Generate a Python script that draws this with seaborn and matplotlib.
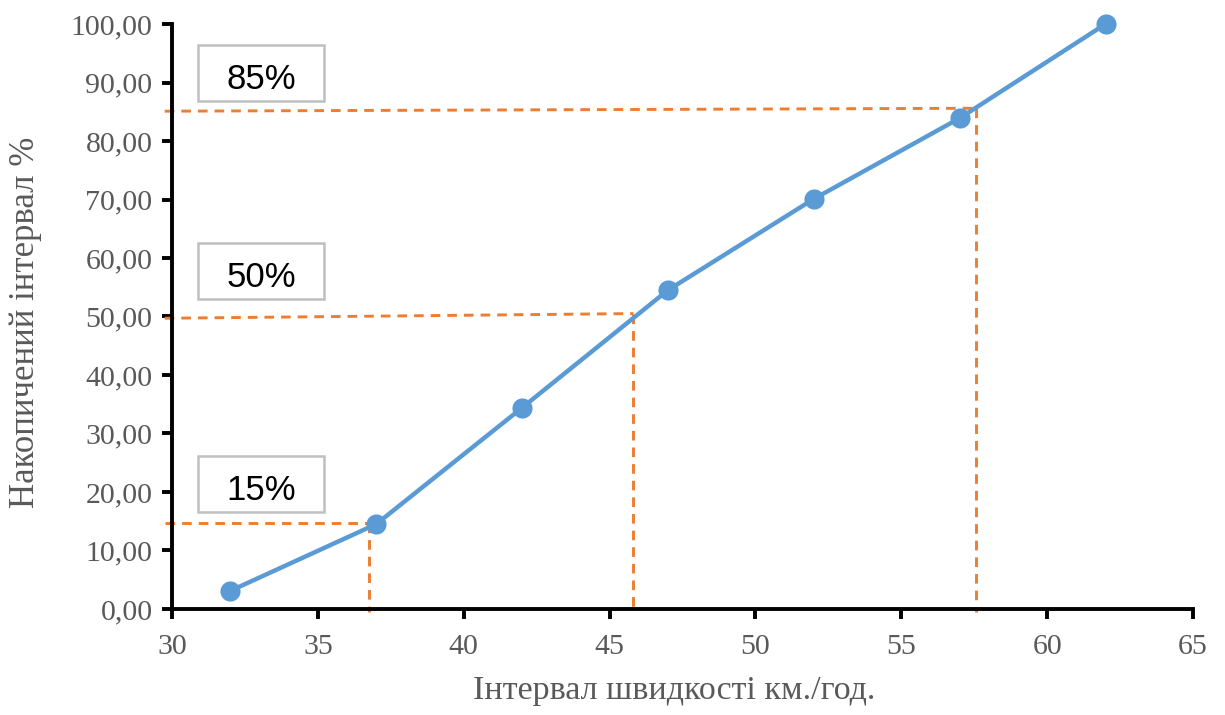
import numpy as np
import pandas as pd
import seaborn as sns
import matplotlib.pyplot as plt
from matplotlib.patches import Rectangle

# cumulative distribution of speeds
speed = [32, 37, 42, 47, 52, 57, 62]
cum_pct = [3.1, 14.5, 34.4, 54.5, 70.1, 83.9, 100.0]

# percentile guide lines (hand drawn in the original, slightly tilted)
pct_labels = ['15%', '50%', '85%']
pct_x = [36.75, 45.82, 57.55]
pct_y_left = [14.7, 49.7, 85.1]
pct_y_right = [14.7, 50.5, 85.6]

x_ticks = [30, 35, 40, 45, 50, 55, 60, 65]
y_ticks = [0, 10, 20, 30, 40, 50, 60, 70, 80, 90, 100]

df = pd.DataFrame({'speed': speed, 'cum': cum_pct})

sns.set_style('ticks')
plt.rcParams['font.family'] = ['Liberation Serif', 'DejaVu Serif']

fig = plt.figure(figsize=(12.25, 7.15), dpi=100)
ax = fig.add_axes([0.1404, 0.1483, 0.8335, 0.8181])

blue = '#5b9bd5'
orange = '#ed7d31'
gray = '#595959'

for lab, xv, yl, yr in zip(pct_labels, pct_x, pct_y_left, pct_y_right):
    ax.plot([29.75, xv], [yl, yr], ls=(0, (3.3, 2.4)), color=orange, lw=2.1,
            clip_on=False, zorder=2)
    ax.plot([xv, xv], [yr, -0.6], ls=(0, (3.3, 2.4)), color=orange, lw=2.1,
            clip_on=False, zorder=2)

sns.lineplot(data=df, x='speed', y='cum', ax=ax, color=blue, lw=3.2,
             marker='o', markersize=14.5, markeredgewidth=0, zorder=3,
             clip_on=False)

# label boxes
box_x0, box_w = 30.9, 4.3
box_h = 9.6
box_bottoms = [16.5, 53.0, 86.8]
for lab, yb in zip(pct_labels, box_bottoms):
    ax.add_patch(Rectangle((box_x0, yb), box_w, box_h, fill=False,
                           edgecolor='#bfbfbf', lw=1.8, zorder=4))
    ax.text(box_x0 + box_w / 2, yb + 0.9, lab, ha='center', va='bottom',
            fontsize=25, family=['Liberation Sans', 'DejaVu Sans'],
            color='black', zorder=5)

ax.set_xlim(30, 65)
ax.set_ylim(0, 100)
ax.set_xticks(x_ticks)
ax.set_yticks(y_ticks)
ax.set_yticklabels([f'{v:.2f}'.replace('.', ',') for v in y_ticks])
sns.despine(ax=ax)
for s in ['left', 'bottom']:
    ax.spines[s].set_linewidth(2.8)
    ax.spines[s].set_color('black')
ax.tick_params(axis='both', direction='out', length=7, width=2.8,
               color='black', labelsize=21.5, labelcolor=gray)
ax.tick_params(axis='x', pad=11)
ax.tick_params(axis='y', pad=7)

ax.set_xlabel('Інтервал швидкості км./год.', fontsize=24.5, color=gray)
ax.set_ylabel('Накопичений інтервал %', fontsize=25, color=gray,
              va='center')
ax.xaxis.set_label_coords(0.4917, -0.114)
ax.yaxis.set_label_coords(-0.143, 0.49)

fig.savefig('out.png', dpi=100)
